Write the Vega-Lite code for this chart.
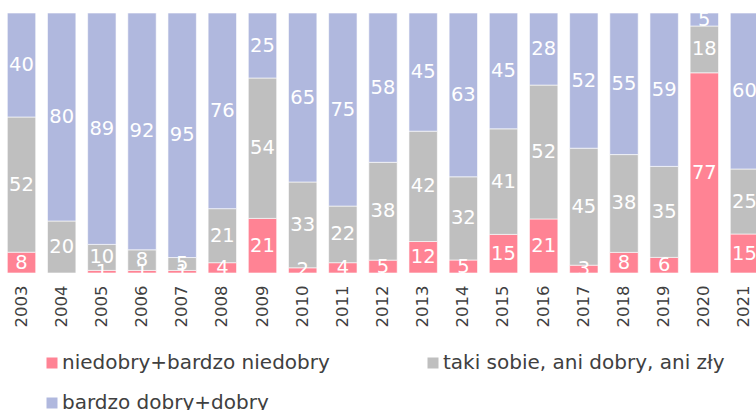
{
  "$schema": "https://vega.github.io/schema/vega-lite/v6.json",
  "width": 756,
  "height": 260,
  "autosize": "none",
  "padding": {"left": 0, "top": 13, "right": 0, "bottom": 137},
  "background": "#ffffff",
  "config": {
    "view": {"stroke": null},
    "font": "DejaVu Sans"
  },
  "data": {
    "values": [
      {"year": "2003", "cat": "niedobry+bardzo niedobry", "ord": 1, "value": 8},
      {"year": "2003", "cat": "taki sobie, ani dobry, ani zły", "ord": 2, "value": 52},
      {"year": "2003", "cat": "bardzo dobry+dobry", "ord": 3, "value": 40},
      {"year": "2004", "cat": "niedobry+bardzo niedobry", "ord": 1, "value": 0},
      {"year": "2004", "cat": "taki sobie, ani dobry, ani zły", "ord": 2, "value": 20},
      {"year": "2004", "cat": "bardzo dobry+dobry", "ord": 3, "value": 80},
      {"year": "2005", "cat": "niedobry+bardzo niedobry", "ord": 1, "value": 1},
      {"year": "2005", "cat": "taki sobie, ani dobry, ani zły", "ord": 2, "value": 10},
      {"year": "2005", "cat": "bardzo dobry+dobry", "ord": 3, "value": 89},
      {"year": "2006", "cat": "niedobry+bardzo niedobry", "ord": 1, "value": 1},
      {"year": "2006", "cat": "taki sobie, ani dobry, ani zły", "ord": 2, "value": 8},
      {"year": "2006", "cat": "bardzo dobry+dobry", "ord": 3, "value": 92},
      {"year": "2007", "cat": "niedobry+bardzo niedobry", "ord": 1, "value": 1},
      {"year": "2007", "cat": "taki sobie, ani dobry, ani zły", "ord": 2, "value": 5},
      {"year": "2007", "cat": "bardzo dobry+dobry", "ord": 3, "value": 95},
      {"year": "2008", "cat": "niedobry+bardzo niedobry", "ord": 1, "value": 4},
      {"year": "2008", "cat": "taki sobie, ani dobry, ani zły", "ord": 2, "value": 21},
      {"year": "2008", "cat": "bardzo dobry+dobry", "ord": 3, "value": 76},
      {"year": "2009", "cat": "niedobry+bardzo niedobry", "ord": 1, "value": 21},
      {"year": "2009", "cat": "taki sobie, ani dobry, ani zły", "ord": 2, "value": 54},
      {"year": "2009", "cat": "bardzo dobry+dobry", "ord": 3, "value": 25},
      {"year": "2010", "cat": "niedobry+bardzo niedobry", "ord": 1, "value": 2},
      {"year": "2010", "cat": "taki sobie, ani dobry, ani zły", "ord": 2, "value": 33},
      {"year": "2010", "cat": "bardzo dobry+dobry", "ord": 3, "value": 65},
      {"year": "2011", "cat": "niedobry+bardzo niedobry", "ord": 1, "value": 4},
      {"year": "2011", "cat": "taki sobie, ani dobry, ani zły", "ord": 2, "value": 22},
      {"year": "2011", "cat": "bardzo dobry+dobry", "ord": 3, "value": 75},
      {"year": "2012", "cat": "niedobry+bardzo niedobry", "ord": 1, "value": 5},
      {"year": "2012", "cat": "taki sobie, ani dobry, ani zły", "ord": 2, "value": 38},
      {"year": "2012", "cat": "bardzo dobry+dobry", "ord": 3, "value": 58},
      {"year": "2013", "cat": "niedobry+bardzo niedobry", "ord": 1, "value": 12},
      {"year": "2013", "cat": "taki sobie, ani dobry, ani zły", "ord": 2, "value": 42},
      {"year": "2013", "cat": "bardzo dobry+dobry", "ord": 3, "value": 45},
      {"year": "2014", "cat": "niedobry+bardzo niedobry", "ord": 1, "value": 5},
      {"year": "2014", "cat": "taki sobie, ani dobry, ani zły", "ord": 2, "value": 32},
      {"year": "2014", "cat": "bardzo dobry+dobry", "ord": 3, "value": 63},
      {"year": "2015", "cat": "niedobry+bardzo niedobry", "ord": 1, "value": 15},
      {"year": "2015", "cat": "taki sobie, ani dobry, ani zły", "ord": 2, "value": 41},
      {"year": "2015", "cat": "bardzo dobry+dobry", "ord": 3, "value": 45},
      {"year": "2016", "cat": "niedobry+bardzo niedobry", "ord": 1, "value": 21},
      {"year": "2016", "cat": "taki sobie, ani dobry, ani zły", "ord": 2, "value": 52},
      {"year": "2016", "cat": "bardzo dobry+dobry", "ord": 3, "value": 28},
      {"year": "2017", "cat": "niedobry+bardzo niedobry", "ord": 1, "value": 3},
      {"year": "2017", "cat": "taki sobie, ani dobry, ani zły", "ord": 2, "value": 45},
      {"year": "2017", "cat": "bardzo dobry+dobry", "ord": 3, "value": 52},
      {"year": "2018", "cat": "niedobry+bardzo niedobry", "ord": 1, "value": 8},
      {"year": "2018", "cat": "taki sobie, ani dobry, ani zły", "ord": 2, "value": 38},
      {"year": "2018", "cat": "bardzo dobry+dobry", "ord": 3, "value": 55},
      {"year": "2019", "cat": "niedobry+bardzo niedobry", "ord": 1, "value": 6},
      {"year": "2019", "cat": "taki sobie, ani dobry, ani zły", "ord": 2, "value": 35},
      {"year": "2019", "cat": "bardzo dobry+dobry", "ord": 3, "value": 59},
      {"year": "2020", "cat": "niedobry+bardzo niedobry", "ord": 1, "value": 77},
      {"year": "2020", "cat": "taki sobie, ani dobry, ani zły", "ord": 2, "value": 18},
      {"year": "2020", "cat": "bardzo dobry+dobry", "ord": 3, "value": 5},
      {"year": "2021", "cat": "niedobry+bardzo niedobry", "ord": 1, "value": 15},
      {"year": "2021", "cat": "taki sobie, ani dobry, ani zły", "ord": 2, "value": 25},
      {"year": "2021", "cat": "bardzo dobry+dobry", "ord": 3, "value": 60}
    ]
  },
  "transform": [
    {
      "stack": "value",
      "groupby": ["year"],
      "sort": [{"field": "ord", "order": "ascending"}],
      "offset": "normalize",
      "as": ["y0", "y1"]
    },
    {"calculate": "(datum.y0 + datum.y1) / 2", "as": "mid"}
  ],
  "encoding": {
    "x": {
      "field": "year",
      "type": "ordinal",
      "title": null,
      "scale": {"range": [0, 766], "paddingInner": 0.293, "paddingOuter": 0.182},
      "axis": {
        "labelAngle": -90,
        "labelFontSize": 16.5,
        "labelColor": "#404040",
        "labelPadding": 12,
        "ticks": false,
        "domain": false,
        "grid": false
      }
    }
  },
  "layer": [
    {
      "mark": {"type": "bar", "stroke": "#ffffff", "strokeWidth": 1, "strokeOpacity": 0.6},
      "encoding": {
        "y": {"field": "y0", "type": "quantitative", "scale": {"domain": [0, 1], "nice": false}, "axis": null},
        "y2": {"field": "y1"},
        "color": {
          "field": "cat",
          "type": "nominal",
          "scale": {
            "domain": ["niedobry+bardzo niedobry", "taki sobie, ani dobry, ani zły", "bardzo dobry+dobry"],
            "range": ["#ff8394", "#bfbfbf", "#b0b8de"]
          },
          "legend": {
            "title": null,
            "orient": "none",
            "direction": "horizontal",
            "legendX": 42,
            "legendY": 340,
            "columns": 2,
            "columnPadding": 93,
            "rowPadding": 20,
            "padding": 0,
            "symbolType": "square",
            "symbolSize": 121,
            "symbolStrokeWidth": 0,
            "labelFontSize": 20,
            "labelColor": "#404040",
            "labelOffset": 0,
            "labelLimit": 400
          }
        }
      }
    },
    {
      "transform": [{"filter": "datum.value > 0"}],
      "mark": {"type": "text", "color": "#ffffff", "fontSize": 19.5, "baseline": "middle", "align": "center"},
      "encoding": {
        "y": {"field": "mid", "type": "quantitative"},
        "text": {"field": "value", "type": "quantitative"}
      }
    }
  ]
}
